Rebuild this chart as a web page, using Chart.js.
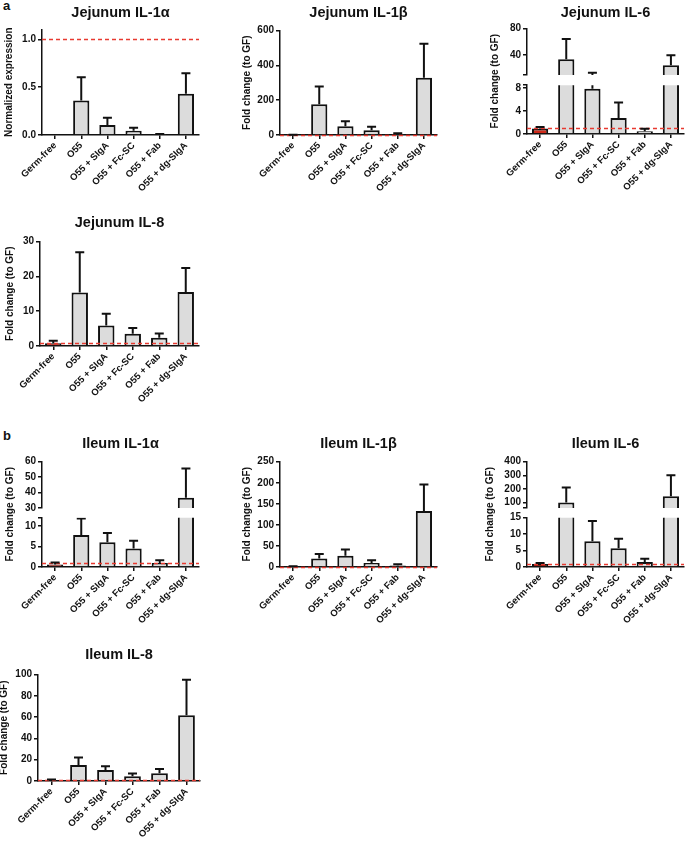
<!DOCTYPE html>
<html>
<head>
<meta charset="utf-8">
<script src="https://cdn.jsdelivr.net/npm/chart.js@4.4.1/dist/chart.umd.min.js"></script>
<style>
  html, body { margin: 0; padding: 0; background: #fff; }
  body { width: 685px; height: 841px; position: relative; overflow: hidden;
         font-family: "Liberation Sans", Arial, sans-serif; }
  canvas { position: absolute; }
  .tag { position: absolute; font-weight: bold; font-size: 13px; line-height: 13px; color: #111; }
</style>
</head>
<body>
<div class="tag" style="left:3px;top:-1px">a</div>
<div class="tag" style="left:3px;top:429px">b</div>
<script>
// categories
const groups = ['Germ-free', 'O55', 'O55 + SIgA', 'O55 + Fc-SC', 'O55 + Fab', 'O55 + dg-SIgA'];

// mean and SEM (upper error only) per panel
const jejIL1aMean = [0, 0.36, 0.105, 0.045, 0.005, 0.43];
const jejIL1aSem  = [0, 0.243, 0.075, 0.032, 0.005, 0.215];
const jejIL1bMean = [1, 177, 50, 27, 6, 329];
const jejIL1bSem  = [1, 102, 29, 21, 4, 196];
const jejIL6Mean  = [0.95, 33.8, 7.9, 2.8, 0.5, 24.7];
const jejIL6Sem   = [0.25, 30.8, 5.6, 2.7, 0.4, 15.3];
const jejIL8Mean  = [0.77, 15.4, 5.9, 3.5, 2.4, 15.5];
const jejIL8Sem   = [0.73, 11.6, 3.4, 1.7, 1.2, 6.9];
const ileIL1aMean = [0.6, 7.8, 6.0, 4.5, 1.0, 36.6];
const ileIL1aSem  = [0.5, 4.0, 2.3, 1.9, 0.65, 19.0];
const ileIL1bMean = [1, 20, 27, 9.6, 3.5, 132.7];
const ileIL1bSem  = [1, 11, 14.5, 6.4, 3, 62.9];
const ileIL6Mean  = [0.93, 100, 7.8, 5.7, 1.55, 147];
const ileIL6Sem   = [0.27, 110, 6.2, 2.9, 0.95, 153];
const ileIL8Mean  = [1, 15.1, 10.4, 4.5, 7.3, 61.9];
const ileIL8Sem   = [0.5, 6.9, 3.5, 2.5, 4.0, 33.4];

// y tick labels
const jejIL1aTicks = [0, 0.5, 1.0];
const jejIL1bTicks = [0, 200, 400, 600];
const jejIL6TicksHigh = [40, 80];
const jejIL6TicksLow = [0, 4, 8];
const jejIL8Ticks = [0, 10, 20, 30];
const ileIL1aTicksHigh = [30, 40, 50, 60];
const ileIL1aTicksLow = [0, 5, 10];
const ileIL1bTicks = [0, 50, 100, 150, 200, 250];
const ileIL6TicksHigh = [100, 200, 300, 400];
const ileIL6TicksLow = [0, 5, 10, 15];
const ileIL8Ticks = [0, 20, 40, 60, 80, 100];

// germ-free reference level (dashed line)
const gfLevel = 1;

const FONT = '"Liberation Sans", Arial, sans-serif';
const INK = '#111';
const BAR_FILL = '#dcdcdc';
const TITLE_SIZE = 14.5;
const TITLE_HALF = TITLE_SIZE * 1.2 / 2;
const YT_SIZE = 10;
const YT_HALF = YT_SIZE * 1.2 / 2;
const XLAB_H = 70;
const PAD_R = 10;

Chart.defaults.font.family = FONT;
Chart.defaults.font.weight = 'bold';
Chart.defaults.color = INK;

const panels = [
  { title: 'Jejunum IL-1α', yTitle: 'Normalized expression', mean: jejIL1aMean, sem: jejIL1aSem,
    axisX: 42, right: 199, titleY: 13, yTitleDist: 33, gf: BAR_FILL, dec: 1,
    segs: [{ min: 0, max: 1.1, top: 30, bottom: 135, ticks: jejIL1aTicks }] },
  { title: 'Jejunum IL-1β', yTitle: 'Fold change (to GF)', mean: jejIL1bMean, sem: jejIL1bSem,
    axisX: 280, right: 437, titleY: 13, yTitleDist: 33, gf: INK, dec: 0,
    segs: [{ min: 0, max: 600, top: 31, bottom: 135, ticks: jejIL1bTicks }] },
  { title: 'Jejunum IL-6', yTitle: 'Fold change (to GF)', mean: jejIL6Mean, sem: jejIL6Sem,
    axisX: 527, right: 684, titleY: 13, yTitleDist: 32, gf: '#d02a1a', dec: 0,
    segs: [{ min: 10, max: 80, top: 29, bottom: 77.5, ticks: jejIL6TicksHigh },
           { min: 0, max: 8.5, top: 85.5, bottom: 134, ticks: jejIL6TicksLow }] },
  { title: 'Jejunum IL-8', yTitle: 'Fold change (to GF)', mean: jejIL8Mean, sem: jejIL8Sem,
    axisX: 40, right: 199, titleY: 223, yTitleDist: 30, gf: '#b81e12', dec: 0,
    segs: [{ min: 0, max: 30, top: 242, bottom: 346, ticks: jejIL8Ticks }] },
  { title: 'Ileum IL-1α', yTitle: 'Fold change (to GF)', mean: ileIL1aMean, sem: ileIL1aSem,
    axisX: 42, right: 199, titleY: 444, yTitleDist: 32, gf: '#c4261a', dec: 0,
    segs: [{ min: 30, max: 60, top: 462, bottom: 510, ticks: ileIL1aTicksHigh },
           { min: 0, max: 12, top: 518, bottom: 567, ticks: ileIL1aTicksLow }] },
  { title: 'Ileum IL-1β', yTitle: 'Fold change (to GF)', mean: ileIL1bMean, sem: ileIL1bSem,
    axisX: 280, right: 437, titleY: 444, yTitleDist: 33, gf: INK, dec: 0,
    segs: [{ min: 0, max: 250, top: 462, bottom: 567, ticks: ileIL1bTicks }] },
  { title: 'Ileum IL-6', yTitle: 'Fold change (to GF)', mean: ileIL6Mean, sem: ileIL6Sem,
    axisX: 527, right: 684, titleY: 444, yTitleDist: 37, gf: '#8e1d12', dec: 0,
    segs: [{ min: 60, max: 400, top: 462, bottom: 510.7, ticks: ileIL6TicksHigh },
           { min: 0, max: 15, top: 518, bottom: 567, ticks: ileIL6TicksLow }] },
  { title: 'Ileum IL-8', yTitle: 'Fold change (to GF)', mean: ileIL8Mean, sem: ileIL8Sem,
    axisX: 38, right: 200, titleY: 655, yTitleDist: 34, gf: '#8e1d12', dec: 0,
    segs: [{ min: 0, max: 100, top: 675, bottom: 781, ticks: ileIL8Ticks }] },
];

// dashed GF line, error bars, and the y-axis title spanning all segments
const marks = {
  id: 'marks',
  afterDatasetsDraw(chart, args, o) {
    const { ctx, chartArea: a } = chart;
    const y = chart.scales.y;
    const meta = chart.getDatasetMeta(0);
    ctx.save();
    ctx.beginPath();
    ctx.rect(a.left - 6, a.top - o.clipTop, a.right - a.left + 12, a.bottom - a.top + o.clipTop + o.clipBottom);
    ctx.clip();
    if (gfLevel >= y.min && gfLevel <= y.max) {
      const yy = Math.round(y.getPixelForValue(gfLevel)) + 0.5;
      ctx.beginPath();
      ctx.setLineDash([4, 3]);
      ctx.strokeStyle = '#e83a30';
      ctx.lineWidth = 1.3;
      ctx.moveTo(a.left, yy);
      ctx.lineTo(a.right, yy);
      ctx.stroke();
      ctx.setLineDash([]);
    }
    ctx.strokeStyle = INK;
    ctx.lineWidth = 2;
    meta.data.forEach((bar, i) => {
      const m = o.mean[i], e = o.sem[i];
      if (!e) return;
      const y0 = y.getPixelForValue(m);
      const y1 = y.getPixelForValue(m + e);
      ctx.beginPath();
      ctx.moveTo(bar.x, y0);
      ctx.lineTo(bar.x, y1);
      ctx.moveTo(bar.x - 4.5, y1);
      ctx.lineTo(bar.x + 4.5, y1);
      ctx.stroke();
    });
    ctx.restore();
  },
  afterDraw(chart, args, o) {
    if (!o.yTitle) return;
    const { ctx } = chart;
    ctx.save();
    ctx.translate(o.yTitleX, o.yTitleY);
    ctx.rotate(-Math.PI / 2);
    ctx.font = `bold ${YT_SIZE}px ${FONT}`;
    ctx.fillStyle = INK;
    ctx.textAlign = 'center';
    ctx.textBaseline = 'middle';
    ctx.fillText(o.yTitle, 0, 0);
    ctx.restore();
  }
};

function mountPanel(p) {
  const yw = p.yTitleDist + YT_HALF;
  const left = p.axisX - yw;
  const width = p.right + PAD_R - left;
  const panelTop = p.titleY - TITLE_HALF - 2;
  const n = p.segs.length;
  // draw lower segments first so the upper ones stack on top
  for (let k = n - 1; k >= 0; k--) {
    const s = p.segs[k];
    const first = k === 0, last = k === n - 1;
    const height = s.bottom + (last ? XLAB_H : 6) - panelTop;
    const canvas = document.createElement('canvas');
    canvas.width = Math.round(width);
    canvas.height = Math.round(height);
    canvas.style.left = left + 'px';
    canvas.style.top = panelTop + 'px';
    document.body.appendChild(canvas);

    const tickVals = s.ticks.slice();
    if (n > 1 && first && !tickVals.includes(s.min)) tickVals.unshift(s.min);
    if (n > 1 && !first && !tickVals.includes(s.max)) tickVals.push(s.max);
    const clipTop = (n > 1 && !first) ? 0 : 6;
    const clipBottom = (n > 1 && !last) ? 0 : 4;

    new Chart(canvas, {
      type: 'bar',
      data: {
        labels: groups,
        datasets: [{
          data: p.mean,
          backgroundColor: p.mean.map((_, i) => i === 0 ? p.gf : BAR_FILL),
          borderColor: INK,
          borderWidth: 2,
          borderSkipped: 'start',
          categoryPercentage: 1,
          barPercentage: 0.62,
          clip: { left: 6, right: 6, top: clipTop, bottom: clipBottom },
        }],
      },
      options: {
        responsive: false,
        animation: false,
        devicePixelRatio: 1,
        layout: { padding: { top: first ? 0 : s.top - panelTop, right: PAD_R, bottom: last ? 0 : 6, left: 0 } },
        plugins: {
          legend: { display: false },
          tooltip: { enabled: false },
          title: {
            display: first,
            text: p.title,
            fullSize: false,
            color: INK,
            font: { size: TITLE_SIZE, weight: 'bold' },
            padding: { top: 2, bottom: s.top - (p.titleY + TITLE_HALF) },
          },
          marks: {
            mean: p.mean, sem: p.sem, clipTop, clipBottom,
            yTitle: last ? p.yTitle : null,
            yTitleX: YT_HALF,
            yTitleY: (p.segs[0].top + s.bottom) / 2 - panelTop,
          },
        },
        scales: {
          x: {
            display: last,
            offset: true,
            grid: { offset: false, drawOnChartArea: false, tickLength: 4, color: INK, lineWidth: 1.5 },
            border: { color: INK, width: 1.5 },
            ticks: { font: { size: 9.5, weight: 'bold' }, color: INK, minRotation: 45, maxRotation: 45, padding: 1, autoSkip: false },
            afterFit: sc => { if (last) sc.height = XLAB_H; },
          },
          y: {
            min: s.min,
            max: s.max,
            grid: { drawOnChartArea: false, tickLength: 4, color: INK, lineWidth: 1.5 },
            border: { color: INK, width: 1.5 },
            ticks: {
              font: { size: 10, weight: 'bold' }, color: INK, padding: 2, autoSkip: false,
              callback: v => s.ticks.includes(v) ? v.toFixed(p.dec) : '',
            },
            afterBuildTicks: sc => { sc.ticks = tickVals.map(v => ({ value: v })); },
            afterFit: sc => { sc.width = yw; },
          },
        },
      },
      plugins: [marks],
    });
  }
}

panels.forEach(mountPanel);
</script>
</body>
</html>
